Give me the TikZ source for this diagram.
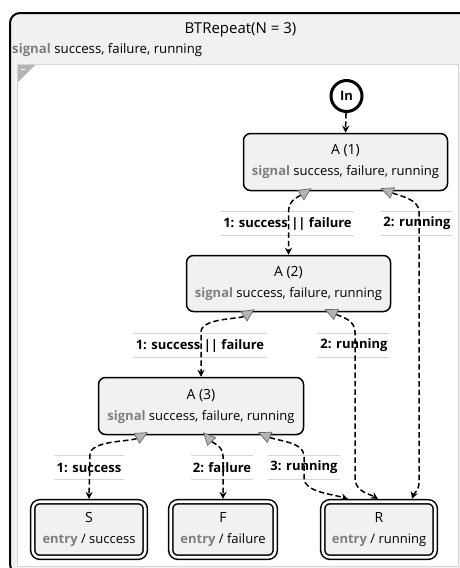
\documentclass[tikz,border=0pt]{standalone}
\usepackage{fontspec}
\setmainfont{Open Sans}
\usetikzlibrary{arrows.meta}
\definecolor{hdrfill}{HTML}{F1F1F1}
\definecolor{kwgray}{HTML}{7F7F7F}
\definecolor{guidegray}{HTML}{D6D6D6}
\definecolor{tipfill}{HTML}{B4B4B4}
\definecolor{tipdraw}{HTML}{6A6A6A}
\newcommand{\kwd}[1]{\textcolor{kwgray}{\textbf{#1}}}
\newcommand{\stname}[1]{{\fontsize{14}{21}\selectfont #1}}
\begin{document}
\begin{tikzpicture}[x=1pt,y=-1pt,
  every node/.style={font=\fontsize{13}{21}\selectfont},
  state/.style={draw, line width=1.5pt, fill=hdrfill, rounded corners=7pt,
    align=center, inner sep=0pt},
  final/.style={state, double, double distance=2.6pt, outer sep=2.8pt},
  initial/.style={draw, circle, line width=3pt, minimum size=31pt, inner sep=0pt,
    font=\fontsize{13}{15}\bfseries\selectfont},
  guideline/.style={draw=guidegray, line width=1.3pt},
  lbl/.style={font=\fontsize{13}{15}\bfseries\selectfont, inner xsep=2pt, inner ysep=0pt,
    minimum height=23pt,
    append after command={(\tikzlastnode.north west) edge[guideline] (\tikzlastnode.north east)
      (\tikzlastnode.south west) edge[guideline] (\tikzlastnode.south east)}},
  flow/.style={line width=1.5pt, dash pattern=on 5.5pt off 3pt,
    -{Stealth[length=7pt,width=7pt]}},
  trans/.style={flow,
    {Triangle[length=13pt,width=12pt,fill=tipfill,color=tipdraw,line width=0.7pt]}-{Stealth[length=7pt,width=7pt]}}
]
\useasboundingbox (0,0) rectangle (460,568);
\clip (0,0) rectangle (460,568);

% outer composite state with its header
\draw[line width=2pt, fill=hdrfill, rounded corners=10pt] (10,13) rectangle (472,574);
\node[font=\fontsize{15}{18}\selectfont] (title) at (240.5,30) {BTRepeat(N = 3)};
\node[anchor=west, inner sep=0pt, font=\fontsize{13.2}{16}\selectfont] (sig) at (12,50)
  {\kwd{signal} success, failure, running};

% region of the composite state
\draw[guidegray, line width=1pt, fill=white] (17,64) rectangle (458,566);
\fill[tipfill] (18,65) -- (35,65) -- (18,82) -- cycle;
\draw[white, line width=1pt] (21,69) -- (25,69);

% states
\node[initial] (in) at (346.5,96) {In};
\node[state, minimum width=204pt, minimum height=57pt] (a1) at (345.5,162)
  {\stname{A (1)}\\\kwd{signal} success, failure, running};
\node[state, minimum width=204pt, minimum height=56pt] (a2) at (288.5,283.5)
  {\stname{A (2)}\\\kwd{signal} success, failure, running};
\node[state, minimum width=205pt, minimum height=57pt] (a3) at (201,406)
  {\stname{A (3)}\\\kwd{signal} success, failure, running};
\node[final, minimum width=112.5pt, minimum height=55.5pt] (s) at (89,529.5)
  {\stname{S}\\\kwd{entry} / success};
\node[final, minimum width=104.5pt, minimum height=55.5pt] (f) at (223,529.5)
  {\stname{F}\\\kwd{entry} / failure};
\node[final, minimum width=112.5pt, minimum height=55.5pt] (r) at (379,529.5)
  {\stname{R}\\\kwd{entry} / running};

% transition labels
\node[lbl] (l1) at (287.5,223.5) {1: success || failure};
\node[lbl] (l2) at (417,223.5) {2: running};
\node[lbl] (l3) at (200,345.5) {1: success || failure};
\node[lbl] (l4) at (354,345.5) {2: running};
\node[lbl] (l5) at (89,467.5) {1: success};
\node[lbl] (l6) at (222,467.5) {2: failure};
\node[lbl] (l7) at (304,467.5) {3: running};

% transitions (grey triangle marks the source state)
\draw[flow] (in) -- (a1.north);
\draw[trans] ([xshift=-34pt,yshift=3pt]a1.south) .. controls (298,197) and (288.5,200) .. (288.5,212) -- (a2.north);
\draw[trans] ([xshift=35pt,yshift=3pt]a1.south) .. controls (400,196) and (419,199) .. (419,212)
  -- (419,482) .. controls (419,491) and (414,493) .. ([xshift=33pt]r.north);
\draw[trans] ([xshift=-34pt,yshift=3pt]a2.south) .. controls (240,319) and (201,318) .. (201,332) -- (a3.north);
\draw[trans] ([xshift=36pt,yshift=3pt]a2.south) .. controls (342,317) and (355,320) .. (355,332)
  -- (355,478) .. controls (355,492) and (370,494) .. ([xshift=-1pt]r.north);
\draw[trans] ([xshift=-53pt,yshift=3pt]a3.south) .. controls (130,442) and (90,440) .. (90,455) -- (s.north);
\draw[trans] ([xshift=2pt,yshift=3pt]a3.south) .. controls (213,443) and (223,446) .. (223,456) -- (f.north);
\draw[trans] ([xshift=57pt,yshift=3pt]a3.south) .. controls (278,441) and (304,442) .. (304,456)
  -- (304,478) .. controls (304,492) and (332,494) .. ([xshift=-31pt]r.north);
\end{tikzpicture}
\end{document}
